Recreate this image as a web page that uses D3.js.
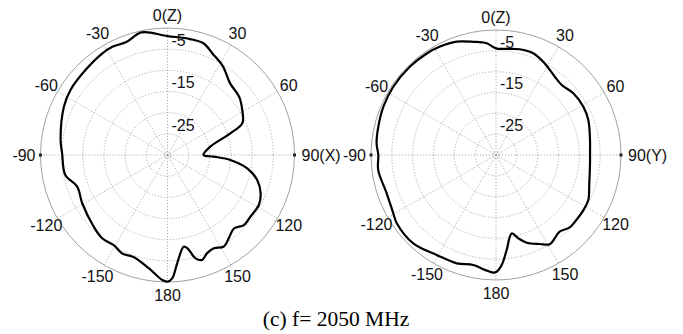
<!DOCTYPE html>
<html><head><meta charset="utf-8">
<script src="https://cdn.jsdelivr.net/npm/d3@7"></script>
<style>body{margin:0;background:#fff}svg{display:block}</style>
</head><body>
<svg id="c" width="683" height="334"></svg>
<script>
// Data (angle in degrees clockwise from top, gain in dB)
const leftAngles = [-177.6,-170.6,-161.8,-155.3,-149.2,-141.9,-134.2,-119.5,-109.3,-101.1,-89,-82,-65,-56,-44,-33,-27,-20,-12,0,11,18,24,32,41,51,59,67,71,79,90,92,94.5,99.5,105.6,112.4,118.7,126.6,132.5,137.9,143.6,148.4,153.6,158,161.7,164.8,168,170,174.9,177.8,180];
const leftValues = [-0.45,-2.9,-4.6,-4.4,-5.2,-5.0,-5.7,-6.85,-7.4,-5.4,-5.1,-4.5,-3.0,-2.4,-2.1,-1.5,-1.3,-1.6,-0.4,-1.9,-2.1,-2.3,-3.8,-5.3,-7.5,-8.2,-9.4,-10.8,-14.3,-19.7,-21.5,-19.1,-15.1,-10.9,-8.0,-6.2,-5.4,-5.6,-5.5,-6.6,-5.6,-4.6,-5.4,-5.0,-3.9,-4.7,-7.5,-8.0,-4.3,-0.85,-0.1];
const rightAngles = [-178.7,-174.5,-168.3,-160.1,-149.3,-136.9,-124.5,-119.6,-109.3,-97.3,-90,-84.4,-76.5,-66.8,-56.4,-44.2,-34.3,-27.3,-19.1,-11.3,-4.8,0,5.8,12.6,20.1,28,36.9,43.2,51.4,61,69.2,80.9,87,95,106.9,116,122.2,129,134.5,140.3,144.8,149,153.8,160.7,165,168.7,173.6,177,179.6];
const rightValues = [-1.75,-2.3,-3.05,-2.35,-2.1,-0.95,-1.1,-1.65,-2.2,-1.5,-1.75,-1.2,-0.95,-0.6,-0.4,-0.4,-0.5,-0.7,-1.2,-2.3,-3.1,-4.4,-4.4,-4.0,-4.0,-5.1,-6.5,-6.95,-6.25,-6.05,-6.3,-7.15,-7.4,-7.35,-6.6,-5.35,-5.2,-5.2,-5.2,-6.1,-5.55,-5.0,-6.2,-7.7,-9.3,-10.8,-7.05,-3.6,-2.0];
const ringValues = [-25,-20,-15,-10,-5];
const ringLabels = [-5,-15,-25];
const spokeAngles = [0,30,60,90,120,150,180,210,240,270,300,330];
const leftAngleLabels = ["0(Z)","30","60","90(X)","120","150","180","-150","-120","-90","-60","-30"];
const rightAngleLabels = ["0(Z)","30","60","90(Y)","120","150","180","-150","-120","-90","-60","-30"];
const caption = "(c) f= 2050 MHz";

const svg = d3.select("#c");
svg.append("rect").attr("width",683).attr("height",334).attr("fill","#fff");

function polar(cx, cy, R, angles, values, labels){
  const g = svg.append("g").attr("transform",`translate(${cx},${cy})`);
  const r = d3.scaleLinear().domain([-30,0]).range([0,R]);
  const rad = d => d*Math.PI/180;
  // rings
  g.selectAll("circle.ring").data(ringValues).join("circle")
    .attr("r", d=>r(d)).attr("fill","none").attr("stroke","#9a9a9a")
    .attr("stroke-width",0.8).attr("stroke-dasharray","1.2,1.8");
  g.append("circle").attr("r",3).attr("fill","none").attr("stroke","#9a9a9a")
    .attr("stroke-width",0.8).attr("stroke-dasharray","1,1.2");
  // spokes
  g.selectAll("line.spoke").data(spokeAngles).join("line")
    .attr("x1",0).attr("y1",0)
    .attr("x2",d=>r(0)*Math.sin(rad(d))).attr("y2",d=>-r(0)*Math.cos(rad(d)))
    .attr("stroke","#9a9a9a").attr("stroke-width",0.8).attr("stroke-dasharray","1.2,1.8");
  // outer circle
  g.append("circle").attr("r",r(0)).attr("fill","none").attr("stroke","#a0a0a0").attr("stroke-width",1);
  // markers at +-90
  g.selectAll("rect.mk").data([90,-90]).join("rect")
    .attr("x",d=>r(0)*Math.sin(rad(d))-1.5).attr("y",-1.5).attr("width",3).attr("height",3).attr("fill","#222");
  // ring labels
  g.selectAll("text.rl").data(ringLabels).join("text")
    .attr("x",4).attr("y",d=>-r(d)-3.3)
    .attr("font-family","Liberation Sans, Arial, sans-serif").attr("font-size",16).attr("fill","#111")
    .text(d=>d);
  // angle labels
  labels.forEach((t,i)=>{
    const a = spokeAngles[i];
    const txt = g.append("text").attr("font-family","Liberation Sans, Arial, sans-serif")
      .attr("font-size",16).attr("fill","#111").attr("dominant-baseline","central").text(t);
    if (a===90){ txt.attr("x",r(0)+7).attr("y",0).attr("text-anchor","start"); }
    else if (a===270){ txt.attr("x",-r(0)-5).attr("y",0).attr("text-anchor","end"); }
    else {
      const rr = r(0)+13;
      txt.attr("x",rr*Math.sin(rad(a))).attr("y",-rr*Math.cos(rad(a))).attr("text-anchor","middle");
    }
  });
  // pattern curve
  const pts = angles.map((a,i)=>[rad(a), r(values[i])]);
  const line = d3.lineRadial().angle(d=>d[0]).radius(d=>d[1]).curve(d3.curveCatmullRomClosed.alpha(0.5));
  g.append("path").attr("d",line(pts)).attr("fill","none").attr("stroke","#000").attr("stroke-width",2.2).attr("stroke-linejoin","round");
}

polar(167.5,155,127,leftAngles,leftValues,leftAngleLabels);
polar(496,155,125,rightAngles,rightValues,rightAngleLabels);

svg.append("text").attr("x",336).attr("y",326).attr("text-anchor","middle")
  .attr("font-family","Liberation Serif, Times New Roman, serif").attr("font-size",21.5).attr("fill","#000")
  .text(caption);
</script>
</body></html>
